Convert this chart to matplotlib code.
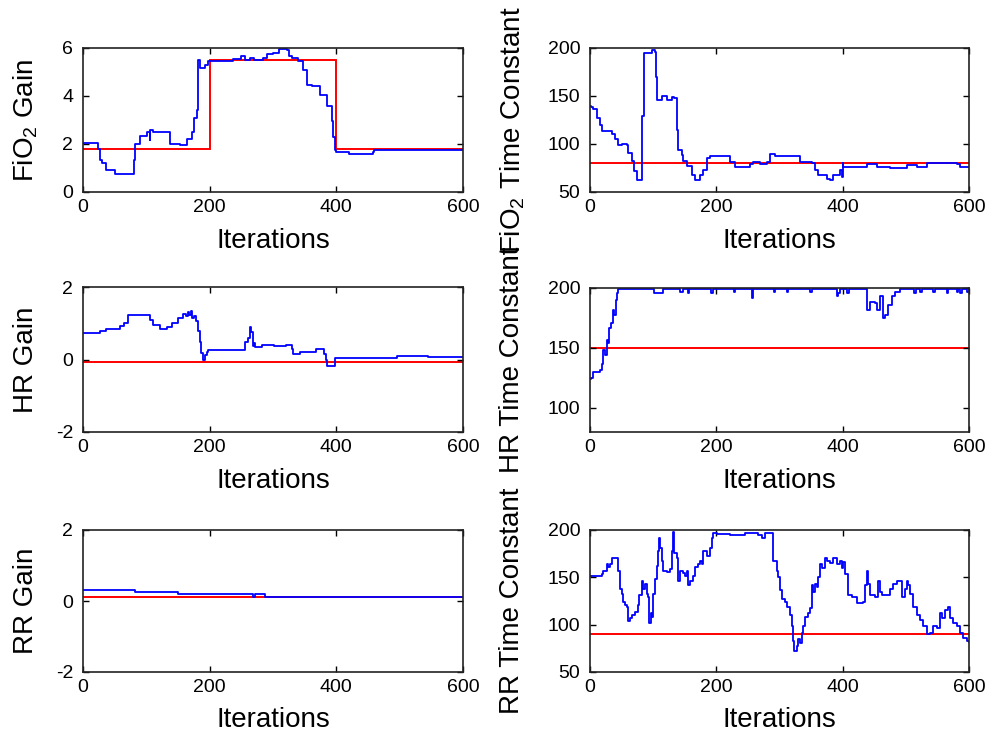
import numpy as np
import matplotlib
matplotlib.use('Agg')
import matplotlib.pyplot as plt

plt.rcParams['font.family'] = ['Liberation Sans', 'DejaVu Sans']
plt.rcParams['mathtext.fontset'] = 'custom'
plt.rcParams['mathtext.rm'] = 'Liberation Sans'
plt.rcParams['axes.unicode_minus'] = False

# estimated (iteration, value) traces
fio2_gain = [(0, 2.05), (21.6, 2.05), (24, 1.8), (27, 1.35), (30, 1.2), (37, 0.92), (50.5, 0.75), (79.4, 0.75),
             (80, 1.33), (82, 2.0), (90, 2.35), (100.5, 2.5), (104, 2.5), (105, 2.15), (106, 2.6), (110, 2.5),
             (132, 2.5), (137.3, 2.0), (153, 1.95), (163.6, 2.2), (171.5, 2.5), (175, 3.1), (179.4, 3.4),
             (181, 4.5), (182, 5.5), (184.7, 5.15), (192.6, 5.3), (197.9, 5.45), (232, 5.45), (237, 5.55),
             (250, 5.65), (255, 5.5), (263.6, 5.6), (270, 5.5), (284.7, 5.6), (290, 5.75), (300.5, 5.8),
             (310, 5.95), (321.6, 5.9), (325, 5.65), (329.5, 5.6), (340, 5.45), (348, 5.1), (353, 4.45),
             (361, 4.4), (374, 4.05), (385, 3.6), (393, 2.95), (395.2, 2.3), (397.9, 1.75), (399.5, 1.65),
             (420, 1.6), (458.4, 1.65), (459, 1.75), (600, 1.75)]
fio2_gain_edges = [0, 200, 400, 600]
fio2_gain_true = [1.8, 5.5, 1.8]

fio2_tc = [(0, 140), (1.6, 139), (5.3, 136), (10.6, 127), (15.8, 120), (18.5, 114), (31.7, 114), (34.3, 110),
           (39.6, 105), (44.9, 99), (50.1, 100), (58, 99), (60.7, 91), (66, 82), (70.2, 71.5), (73.9, 63),
           (81.8, 63), (82.9, 129), (86, 195), (92.3, 195), (97.6, 198), (102.9, 196), (104, 170), (105.5, 146),
           (113.4, 150), (121.4, 146), (129.3, 149), (133.5, 148), (137.2, 115), (138.8, 94), (145.1, 89),
           (147.8, 82), (153, 77), (161, 68), (166.3, 63), (174.2, 68), (179.5, 73), (184.7, 85), (190, 87),
           (216.4, 87), (221.6, 81), (229.5, 76.5), (248, 76.5), (253.3, 79), (258.6, 81.6), (269.2, 79),
           (279.7, 81.6), (285, 89.6), (293, 87), (330, 87), (332.6, 81.6), (351, 80), (356.3, 73),
           (361.6, 67.7), (374.8, 64), (380, 62.5), (385.4, 67.7), (396, 73), (398.6, 73), (399.2, 66),
           (400.2, 80), (401.3, 76.4), (438.3, 79), (454, 76.4), (475, 74.7), (501.5, 78), (517.3, 76.4),
           (533.2, 79.9), (543.8, 80.6), (554.3, 79.9), (580.7, 79), (586, 76.4), (600, 76.4)]
fio2_tc_true = 80

hr_gain = [(0, 0.74), (26, 0.74), (27, 0.79), (36.8, 0.79), (37, 0.84), (57, 0.84), (58, 0.93), (64, 1.0),
           (71, 1.22), (105, 1.22), (106, 1.1), (110, 0.95), (118, 0.95), (122, 0.84), (127, 0.84), (132, 0.9),
           (140, 1.0), (150, 1.15), (158, 1.25), (163, 1.2), (166, 1.3), (168, 1.22), (170, 1.35), (172, 1.15),
           (175, 1.2), (179, 1.05), (182, 0.8), (185, 0.47), (187, 0.17), (190, -0.02), (192.6, 0.12),
           (195.2, 0.22), (198, 0.26), (253, 0.26), (256, 0.47), (261, 0.6), (264, 0.9), (266, 0.75),
           (268, 0.38), (270, 0.45), (272, 0.34), (280, 0.34), (282, 0.4), (300, 0.4), (301, 0.36), (320, 0.36),
           (321, 0.4), (327, 0.4), (330, 0.3), (332, 0.14), (340, 0.14), (342, 0.21), (366, 0.21), (368, 0.3),
           (376, 0.3), (380, 0.15), (383, 0.0), (385, -0.18), (396, -0.18), (398, 0.05), (493, 0.05),
           (495, 0.11), (543, 0.11), (545, 0.06), (600, 0.06)]
hr_gain_true = -0.06

hr_tc = [(0, 124), (1.6, 124.7), (5.3, 130), (15.8, 131.7), (18.5, 137), (21.1, 148.3), (23.7, 144.2),
         (26.4, 156.7), (29, 153.9), (30.6, 166.4), (32.7, 170.6), (35.9, 181.7), (38.5, 177.5), (41.2, 190),
         (43.3, 195.6), (44.9, 199), (100, 199), (101, 195.6), (112, 195.6), (116, 199), (142.5, 199),
         (143, 197), (147.8, 197), (148, 199), (153, 199), (155, 196), (157, 199), (190, 199), (191, 195.6),
         (195, 199), (227, 199), (228, 197), (230, 199), (255, 199), (256, 191.4), (258, 199), (290, 199),
         (291, 197), (293, 199), (311, 199), (312, 197), (314, 199), (348, 199), (349, 197), (351, 199),
         (388, 199), (390.6, 193), (393, 196), (396, 199), (406, 199), (407, 195.6), (410, 199), (437, 199),
         (438.1, 181.7), (443.4, 188.6), (451.3, 187.5), (454, 181.7), (459.2, 193), (464.5, 174.7),
         (467.2, 177.5), (472.5, 186), (477.8, 193), (483, 197), (491, 199), (512, 199), (513, 195.6),
         (516, 199), (522.6, 197), (525, 199), (543.7, 197), (546, 199), (564.8, 195.6), (567, 199),
         (580.7, 197), (583, 199), (586, 195.6), (589, 199), (596.5, 197), (600, 199)]
hr_tc_true = 150

rr_gain = [(0, 0.32), (82, 0.32), (82.5, 0.26), (150, 0.26), (150.5, 0.19), (267, 0.19), (268, 0.12),
           (271, 0.12), (272, 0.19), (287, 0.19), (288, 0.12), (600, 0.12)]
rr_gain_true = 0.12

rr_tc = [(0, 151.7), (15.8, 151), (18.5, 153.5), (21.1, 157), (26.4, 163.8), (29, 160.4), (31.7, 164.5),
         (34.3, 170.7), (42.2, 170.7), (44.9, 157), (47.5, 137.9), (50.1, 132.7), (52.8, 124), (55.4, 120.6),
         (58, 119), (59.6, 103.4), (63.3, 106.8), (66, 110.3), (71.2, 113.7), (75.5, 120.6), (78.1, 131),
         (81.8, 146.5), (84.4, 137.9), (87.1, 143), (89.7, 132.7), (92.3, 129.3), (93.9, 101.7), (96.6, 112),
         (97.6, 108.6), (100.3, 132.7), (102.9, 148.2), (105.5, 162), (108.2, 177.6), (109.2, 191.4),
         (110.8, 181), (113.4, 167.2), (116.1, 157), (121.4, 155.3), (126.6, 158.7), (130.3, 177.6),
         (131.9, 198.3), (133.5, 175.9), (137.2, 170.7), (139.8, 146.5), (142.5, 157), (147.8, 155),
         (150.4, 151.7), (153, 157), (155.7, 141.4), (158.3, 146.5), (163.6, 151.7), (166.3, 160.4),
         (171.5, 163.8), (174.2, 167.2), (176.8, 163.8), (179.5, 177.6), (184.7, 172.4), (190, 181),
         (192.6, 191.4), (195.2, 196.5), (200.5, 195.5), (221.6, 194.8), (245.4, 196.5), (266.5, 194.8),
         (271.8, 191.4), (277, 196.5), (287.6, 197), (290.3, 167), (295.5, 157), (298.2, 150), (300.8, 136.2),
         (303.4, 127.6), (308.7, 124.1), (311.3, 119), (316.6, 110.3), (319.2, 98.3), (321.9, 82.7),
         (323.5, 72.4), (327.2, 77.6), (329.8, 84.5), (332.5, 81), (335.1, 91.4), (337.7, 98.3), (340.4, 108.6),
         (345.7, 112), (348.3, 117.2), (351, 141.4), (353.6, 134.5), (356.2, 143.1), (358.9, 140), (361.5, 150),
         (364.2, 163.8), (366.8, 160), (372.1, 170.7), (374.7, 167), (380, 165.5), (385.2, 170.7),
         (390.5, 163.8), (395.8, 167), (398.4, 160), (401.1, 166), (403.7, 153.5), (409, 131), (414.2, 129.3),
         (422.2, 122.4), (432.7, 124.1), (435.4, 141.4), (438, 157), (440.7, 143.1), (443.3, 131),
         (451.2, 129.3), (456.5, 146.5), (459.2, 134.5), (461.8, 131), (469.7, 131), (475, 137.9),
         (480.3, 143.1), (485.6, 146.5), (490.8, 146.5), (493.5, 129.3), (498.8, 137.9), (501.4, 146.5),
         (504, 141.4), (506.7, 132.7), (512, 119), (517.3, 110.3), (522.6, 105.2), (527.8, 98.3), (533.1, 89.7),
         (538.4, 91.4), (543.7, 98.3), (549, 96.6), (554.3, 112), (556.9, 106.9), (562.2, 115.5), (567.5, 119),
         (570.1, 106.9), (575.4, 101.7), (580.7, 98.3), (586, 91.4), (591.2, 86.2), (596.5, 82.7), (600, 82)]
rr_tc_true = 90

x_ticks = [0, 200, 400, 600]

panels = [
    # trace, red edges, red values, ylim, yticks, ylabel, axes rect (px), ylabel position
    (fio2_gain, fio2_gain_edges, fio2_gain_true, (0, 6), [0, 2, 4, 6], 'FiO$_2$ Gain',
     [83, 48, 380, 144], (-0.15, 0.5)),
    (fio2_tc, [0, 600], [fio2_tc_true], (50, 200), [50, 100, 150, 200], 'FiO$_2$ Time Constant',
     [590, 48, 379, 144], (-0.205, 0.43)),
    (hr_gain, [0, 600], [hr_gain_true], (-2, 2), [-2, 0, 2], 'HR Gain',
     [83, 287, 380, 145], (-0.15, 0.5)),
    (hr_tc, [0, 600], [hr_tc_true], (80, 200), [100, 150, 200], 'HR Time Constant',
     [590, 288, 379, 144], (-0.205, 0.5)),
    (rr_gain, [0, 600], [rr_gain_true], (-2, 2), [-2, 0, 2], 'RR Gain',
     [83, 530, 380, 142], (-0.15, 0.5)),
    (rr_tc, [0, 600], [rr_tc_true], (50, 200), [50, 100, 150, 200], 'RR Time Constant',
     [590, 530, 379, 142], (-0.205, 0.5)),
]

W, H = 990, 737
fig = plt.figure(figsize=(W / 100, H / 100), dpi=100)

for trace, edges, vals, ylim, yticks, ylabel, rect, ylab_pos in panels:
    l, t, w, h = rect
    ax = fig.add_axes([l / W, 1 - (t + h) / H, w / W, h / H])
    ax.stairs(vals, edges, baseline=None, color='red', linewidth=1.4)
    tr = np.array(trace)
    ax.plot(tr[:, 0], tr[:, 1], color='blue', linewidth=1.3, drawstyle='steps-post')
    ax.set_xlim(0, 600)
    ax.set_ylim(*ylim)
    ax.set_xticks(x_ticks)
    ax.set_yticks(yticks)
    ax.tick_params(direction='in', length=4, width=1, top=True, right=True, labelsize=14)
    ax.tick_params(axis='y', pad=7)
    ax.tick_params(axis='x', pad=5)
    for sp in ax.spines.values():
        sp.set_linewidth(1.2)
        sp.set_color('#222222')
    ax.set_xlabel('Iterations', fontsize=20)
    ax.xaxis.set_label_coords(0.5, -0.34)
    ax.xaxis.label.set_va('center')
    ax.set_ylabel(ylabel, fontsize=20)
    ax.yaxis.set_label_coords(*ylab_pos)
    ax.yaxis.label.set_va('center')

fig.savefig('out.png', dpi=100)
